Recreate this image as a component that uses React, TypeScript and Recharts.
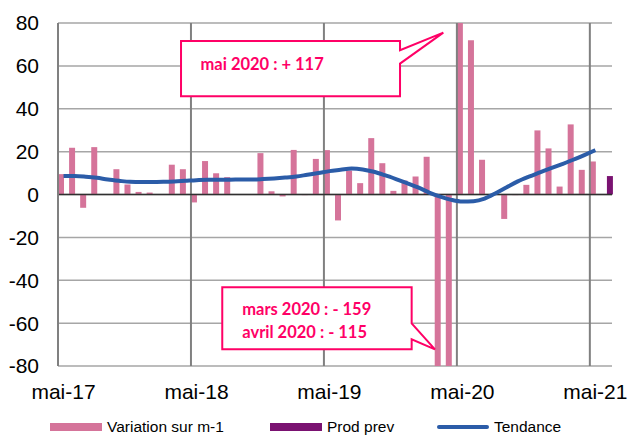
import { ComposedChart, Bar, Line, XAxis, YAxis, CartesianGrid, ReferenceLine, ReferenceDot, Legend } from 'recharts'

const MOIS = [
  'mai-17', 'juin-17', 'juil-17', 'août-17', 'sept-17', 'oct-17', 'nov-17', 'déc-17', 'janv-18', 'févr-18', 'mars-18', 'avr-18',
  'mai-18', 'juin-18', 'juil-18', 'août-18', 'sept-18', 'oct-18', 'nov-18', 'déc-18', 'janv-19', 'févr-19', 'mars-19', 'avr-19',
  'mai-19', 'juin-19', 'juil-19', 'août-19', 'sept-19', 'oct-19', 'nov-19', 'déc-19', 'janv-20', 'févr-20', 'mars-20', 'avr-20',
  'mai-20', 'juin-20', 'juil-20', 'août-20', 'sept-20', 'oct-20', 'nov-20', 'déc-20', 'janv-21', 'févr-21', 'mars-21', 'avr-21',
  'mai-21', 'juin-21',
]

// variation sur m-1 (mai-17 .. mai-21)
const VARIATION = [
  9.5, 21.8, -6.2, 22.1, 0, 11.8, 4.7, 1.2, 0.9, 0, 13.9, 11.8,
  -3.7, 15.6, 9.9, 8.1, 0, 0, 19.3, 1.5, -0.9, 20.8, -0.3, 16.6,
  20.7, -12.1, 11.2, 5.3, 26.3, 14.6, 1.7, 6.5, 8.4, 17.6, -159, -115,
  117, 72, 16.2, 0, -11.4, -0.3, 4.5, 29.9, 21.5, 3.7, 32.7, 11.5,
  15.4,
]

// prévision juin-21
const PROD_PREV = 8.6

const TENDANCE = [
  8.6, 8.6, 8.3, 7.8, 7.0, 6.4, 5.9, 5.8, 5.8, 5.9, 6.1, 6.4,
  6.7, 6.9, 6.9, 6.9, 7.0, 7.0, 7.2, 7.5, 7.9, 8.4, 9.2, 10.0,
  10.9, 11.5, 12.1, 11.7, 10.6, 9.0, 7.2, 5.3, 3.3, 0.9, -1.0, -2.5,
  -3.3, -3.1, -1.9, 0.6, 3.4, 6.1, 8.3, 10.3, 12.3, 14.2, 16.2, 18.4,
  20.7,
]

const Y_TICKS = [-80, -60, -40, -20, 0, 20, 40, 60, 80]
const ANNEES = ['mai-18', 'mai-19', 'mai-20', 'mai-21']
const LEGEND_ORDER = ['Variation sur m-1', 'Prod prev', 'Tendance']

const data = MOIS.map((mois, i) => ({
  mois,
  variation: i < VARIATION.length ? VARIATION[i] : null,
  prev: i === MOIS.length - 1 ? PROD_PREV : null,
  tendance: i < TENDANCE.length ? TENDANCE[i] : null,
}))

const PINK = '#D5749A'
const PURPLE = '#7A1271'
const BLUE = '#2B5CA8'
const ANNOT = '#FF0066'
const FONT = '"Liberation Sans", Arial, sans-serif'

// bulle accrochée en haut de la barre de mai-20
function CalloutHaut(p: any) {
  const { cx, cy } = p
  const x = cx - 281.4
  const y = cy + 18
  const w = 219
  const h = 55.3
  const r = x + w
  const d = `M${x},${y} H${r} V${y + 9.3} L${cx - 19.1},${cy + 9.6} L${r},${y + 22.6} V${y + h} H${x} Z`
  return (
    <g>
      <path d={d} fill="#fff" stroke={ANNOT} strokeWidth={2} />
      <text x={x + 19.5} y={y + 29} fill={ANNOT} fontFamily="Lato" fontWeight={700} fontSize={16.5}>
        mai 2020 : + 117
      </text>
    </g>
  )
}

// bulle accrochée en bas de la barre de mars-20
function CalloutBas(p: any) {
  const { cx, cy } = p
  const x = cx - 218
  const y = cy - 78.7
  const w = 189.4
  const h = 62
  const r = x + w
  const d = `M${x},${y} H${r} V${y + 36} L${cx - 5.3},${cy - 16.7} L${r},${y + 52} V${y + h} H${x} Z`
  return (
    <g>
      <path d={d} fill="#fff" stroke={ANNOT} strokeWidth={2} />
      <text x={x + 20} y={y + 28} fill={ANNOT} fontFamily="Lato" fontWeight={700} fontSize={16.5}>
        mars 2020 : - 159
      </text>
      <text x={x + 20} y={y + 50.5} fill={ANNOT} fontFamily="Lato" fontWeight={700} fontSize={16.5}>
        avril 2020 : - 115
      </text>
    </g>
  )
}

const LEGEND_X = [50, 270, 437]

function renderLegend(props: any) {
  const items = [...(props.payload || [])].sort(
    (a: any, b: any) => LEGEND_ORDER.indexOf(a.value) - LEGEND_ORDER.indexOf(b.value),
  )
  return (
    <div style={{ position: 'relative', height: 16, width: 628, fontFamily: FONT, fontSize: 15.5, color: '#000' }}>
      {items.map((it: any, i: number) => (
        <div key={it.value} style={{ position: 'absolute', left: LEGEND_X[i], top: 0, height: 16, display: 'flex', alignItems: 'center', whiteSpace: 'nowrap' }}>
          <span
            style={{
              display: 'inline-block',
              width: 52,
              height: it.type === 'line' ? 4 : 8,
              borderRadius: it.type === 'line' ? 2 : 0,
              background: it.color,
              marginRight: 5,
            }}
          />
          {it.value}
        </div>
      ))}
    </div>
  )
}

export default function App() {
  return (
    <div style={{ position: 'absolute', left: 0, top: 0, width: 628, height: 435, background: '#fff', fontFamily: FONT }}>
      <ComposedChart
        width={628}
        height={435}
        data={data}
        margin={{ top: 23, right: 16, left: 0, bottom: 0 }}
        barCategoryGap={0}
        barGap={0}
      >
        <CartesianGrid vertical={false} stroke="#A6A6A6" strokeWidth={1.5} />
        <XAxis
          dataKey="mois"
          interval={11}
          tickLine={false}
          axisLine={false}
          height={53}
          tickMargin={12}
          tick={{ fill: '#000', fontSize: 21, fontFamily: FONT }}
        />
        <YAxis
          domain={[-80, 80]}
          ticks={Y_TICKS}
          allowDataOverflow
          width={58}
          tickLine={false}
          tickMargin={13}
          axisLine={{ stroke: '#808080', strokeWidth: 2 }}
          tick={{ fill: '#000', fontSize: 21, fontFamily: FONT }}
        />
        {ANNEES.map((a) => (
          <ReferenceLine key={a} x={a} position="start" stroke="#808080" strokeWidth={2} />
        ))}
        <ReferenceLine y={0} stroke="#303030" strokeWidth={1.5} />
        <Bar dataKey="variation" name="Variation sur m-1" fill={PINK} isAnimationActive={false} />
        <Bar dataKey="prev" name="Prod prev" fill={PURPLE} isAnimationActive={false} />
        <Line
          dataKey="tendance"
          name="Tendance"
          type="monotone"
          stroke={BLUE}
          strokeWidth={4}
          dot={false}
          activeDot={false}
          isAnimationActive={false}
        />
        <ReferenceDot x="mai-20" y={80} shape={CalloutHaut} ifOverflow="visible" />
        <ReferenceDot x="mars-20" y={-80} shape={CalloutBas} ifOverflow="visible" />
        <Legend verticalAlign="bottom" wrapperStyle={{ left: 0, width: 628, bottom: 0 }} content={renderLegend} />
      </ComposedChart>
    </div>
  )
}
